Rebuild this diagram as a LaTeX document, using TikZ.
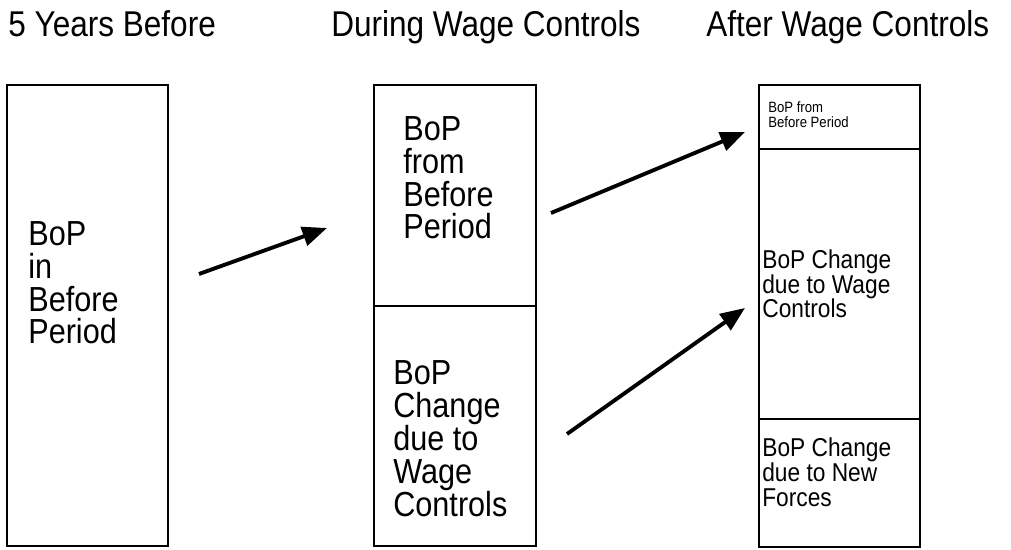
\documentclass[tikz,border=0pt]{standalone}
\usepackage{fontspec}
\setmainfont[FakeStretch=0.88]{Liberation Sans}
\usetikzlibrary{arrows.meta}
\begin{document}
\begin{tikzpicture}[x=0.02cm, y=-0.02cm,
    box/.style={draw, line width=1.4pt, inner sep=0pt},
    big/.style={inner sep=0pt, anchor=base west, align=left, font=\fontsize{19.8}{18.7}\selectfont},
    mid/.style={inner sep=0pt, anchor=base west, align=left, font=\fontsize{14.7}{14.2}\selectfont},
    tiny/.style={inner sep=0pt, anchor=base west, align=left, font=\fontsize{8.5}{9.1}\selectfont},
    arr/.style={-{Triangle[length=14pt, width=11pt]}, line width=2.2pt}]
\useasboundingbox (0,0) rectangle (1011,550);
% headings
\node[big, font=\fontsize{20.4}{20}\selectfont] (h1) at (8,37) {5 Years Before};
\node[big, font=\fontsize{20.4}{20}\selectfont] (h2) at (331,37) {During Wage Controls};
\node[big, font=\fontsize{20.4}{20}\selectfont] (h3) at (706,37) {After Wage Controls};
% boxes
\draw[box] (7,85) rectangle (168,546);
\draw[box] (374,85) rectangle (536,306);
\draw[box] (374,306) rectangle (536,546);
\draw[box] (759,85) rectangle (920,149);
\draw[box] (759,149) rectangle (920,419);
\draw[box] (759,419) rectangle (920,547);
% box texts (placed by the baseline of the last line)
\node[big] (t1) at (28,344) {BoP\\in\\Before\\Period};
\node[big] (t2) at (403,239) {BoP\\from\\Before\\Period};
\node[big] (t3) at (393,516) {BoP\\Change\\due to\\Wage\\Controls};
\node[tiny] (t4) at (768,128) {BoP from\\Before Period};
\node[mid] (t5) at (762,318) {BoP Change\\due to Wage\\Controls};
\node[mid] (t6) at (762,506) {BoP Change\\due to New\\Forces};
% arrows
\coordinate (a1) at (199,274); \coordinate (b1) at (327,228);
\coordinate (a2) at (551,213); \coordinate (b2) at (745,132);
\coordinate (a3) at (567,434); \coordinate (b3) at (745,308);
\draw[arr] (a1) -- (b1);
\draw[arr] (a2) -- (b2);
\draw[arr] (a3) -- (b3);
\end{tikzpicture}
\end{document}
